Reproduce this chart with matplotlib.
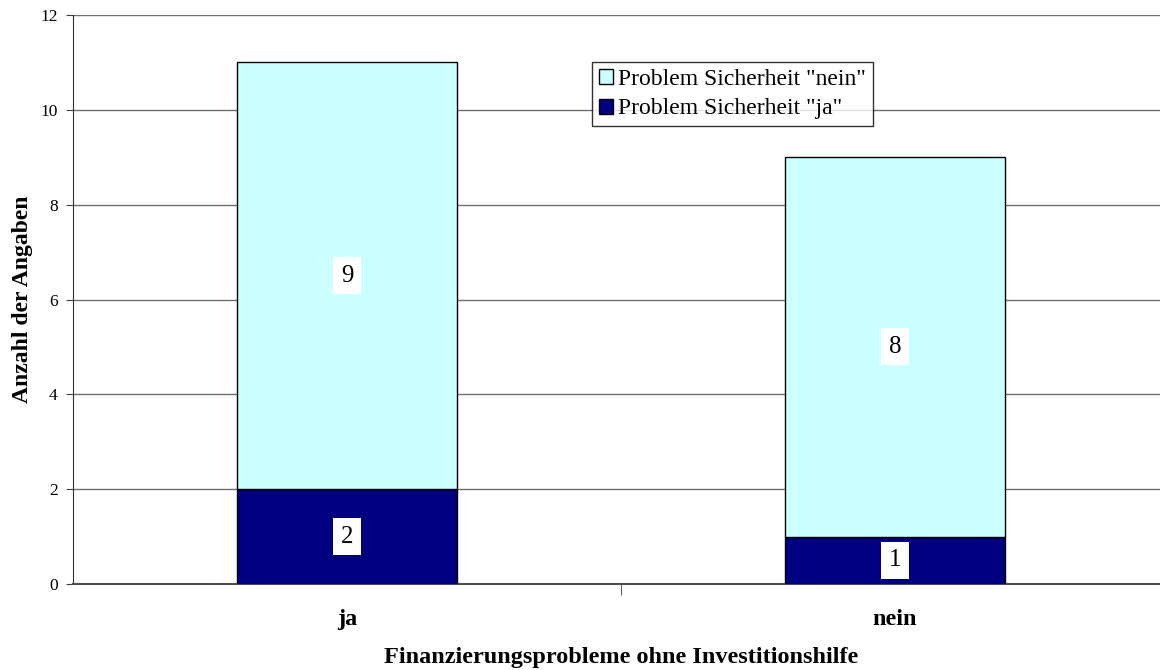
import matplotlib.pyplot as plt
import numpy as np

plt.rcParams['font.family'] = ['Liberation Serif', 'DejaVu Serif']

# === Data ===
categories = ['ja', 'nein']
sicherheit_ja = [2, 1]
sicherheit_nein = [9, 8]
yticks = [0, 2, 4, 6, 8, 10, 12]

fig = plt.figure(figsize=(11.6, 6.7), dpi=100)
ax = fig.add_axes([73 / 1160, 86 / 670, 1096 / 1160, 569 / 670])

x = np.arange(len(categories))
width = 0.40
bottom = ax.bar(x, sicherheit_ja, width, color='#000080', edgecolor='black',
                linewidth=1.0, label='Problem Sicherheit "ja"', zorder=3)
top = ax.bar(x, sicherheit_nein, width, bottom=sicherheit_ja, color='#CCFFFF',
             edgecolor='black', linewidth=1.0, label='Problem Sicherheit "nein"', zorder=3)

# value labels in white boxes
for i in range(len(categories)):
    ax.text(x[i], sicherheit_ja[i] / 2, str(sicherheit_ja[i]), ha='center', va='center',
            fontsize=18, zorder=4,
            bbox=dict(facecolor='white', edgecolor='none', boxstyle='square,pad=0.3'))
    ax.text(x[i], sicherheit_ja[i] + sicherheit_nein[i] / 2, str(sicherheit_nein[i]),
            ha='center', va='center', fontsize=18, zorder=4,
            bbox=dict(facecolor='white', edgecolor='none', boxstyle='square,pad=0.3'))

ax.set_xlim(-0.5, 1.5)
ax.set_ylim(0, 12)
ax.set_yticks(yticks)
ax.set_yticklabels([str(v) for v in yticks], fontsize=12.5)
ax.yaxis.grid(True, color='#707070', linewidth=1.0, zorder=0)

ax.set_xticks(x)
ax.set_xticklabels(categories, fontsize=17.5, fontweight='bold')
ax.tick_params(axis='x', length=0, pad=18)
ax.set_xticks([0.5], minor=True)
ax.tick_params(axis='x', which='minor', length=8, direction='out', color='#404040')
ax.tick_params(axis='y', length=5, direction='out', color='#404040', pad=6)

for s in ['top', 'right']:
    ax.spines[s].set_visible(False)
ax.spines['left'].set_color('#303030')
ax.spines['bottom'].set_color('#505050')
ax.spines['bottom'].set_linewidth(1.5)

ax.set_ylabel('Anzahl der Angaben', fontsize=17, fontweight='bold', labelpad=5)
ax.set_xlabel('Finanzierungsprobleme ohne Investitionshilfe', fontsize=17.5,
              fontweight='bold', labelpad=12)

leg = ax.legend(handles=[top, bottom], loc='upper left',
                bbox_to_anchor=((592 - 73) / 1096, (670 - 62 - 86) / 569),
                fontsize=17, frameon=True, fancybox=False, edgecolor='black',
                handlelength=0.6, handleheight=0.6, handletextpad=0.2,
                borderpad=0.3, labelspacing=0.35, borderaxespad=0)
leg.get_frame().set_linewidth(1.0)
leg.set_zorder(5)

fig.savefig('out.png', dpi=100)
